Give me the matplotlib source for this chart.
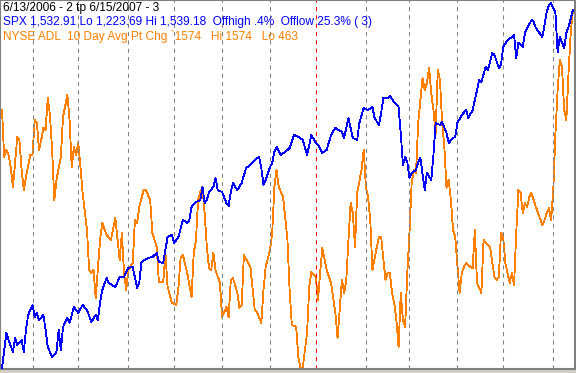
import numpy as np
import pandas as pd
import matplotlib.pyplot as plt

# trading-day index (business days since 6/13/2006) and SPX close
spx_day = [0, 2, 3, 5, 6, 7, 9, 10, 11, 12, 14, 15, 16, 17, 19, 20, 21, 23, 25, 26,
           27, 28, 30, 31, 33, 35, 37, 39, 41, 43, 44, 45, 46, 48, 49, 52, 54, 56, 58, 60,
           62, 63, 64, 67, 69, 71, 72, 74, 75, 76, 78, 79, 81, 83, 85, 86, 87, 89, 91, 92,
           93, 94, 95, 97, 98, 99, 101, 103, 104, 105, 106, 108, 110, 112, 114, 116, 118, 119, 120, 121,
           123, 124, 125, 126, 128, 131, 132, 134, 136, 138, 140, 142, 144, 145, 147, 149, 151, 153, 156, 157,
           159, 161, 163, 164, 166, 168, 170, 171, 173, 174, 175, 177, 178, 180, 182, 183, 184, 185, 186, 187,
           188, 190, 191, 192, 194, 195, 197, 198, 199, 201, 202, 204, 205, 207, 208, 209, 211, 213, 214, 216,
           218, 219, 220, 222, 223, 225, 226, 228, 229, 230, 232, 234, 235, 236, 237, 239, 240, 243, 244, 245,
           248, 249, 250, 251, 252, 254, 255, 256, 258, 259, 260, 262]
spx_close = [1223.7, 1254.0, 1247.9, 1237.6, 1249.7, 1243.6, 1247.9, 1237.6, 1256.6, 1269.5,
             1278.2, 1267.8, 1271.3, 1265.2, 1269.5, 1256.6, 1241.9, 1233.2, 1237.6, 1256.6,
             1239.3, 1259.2, 1266.9, 1262.6, 1276.5, 1271.3, 1278.2, 1273.9, 1263.5, 1269.5,
             1265.2, 1279.9, 1291.1, 1301.5, 1297.2, 1293.7, 1302.4, 1302.4, 1310.2, 1311.0,
             1292.9, 1297.2, 1315.3, 1318.8, 1319.6, 1323.1, 1315.3, 1314.5, 1325.7, 1337.0,
             1338.7, 1331.8, 1337.0, 1351.6, 1349.1, 1351.6, 1362.9, 1367.2, 1368.9, 1380.2,
             1366.3, 1368.9, 1375.8, 1380.2, 1387.9, 1377.6, 1375.8, 1366.3, 1363.7, 1375.8,
             1383.6, 1377.6, 1383.6, 1396.6, 1399.2, 1403.5, 1406.1, 1396.6, 1381.9, 1386.2,
             1397.5, 1400.9, 1410.4, 1414.7, 1407.8, 1412.1, 1413.9, 1425.1, 1423.4, 1420.8,
             1407.8, 1425.1, 1418.2, 1416.5, 1409.6, 1412.1, 1425.1, 1431.2, 1427.7, 1422.5,
             1439.8, 1422.5, 1420.8, 1435.5, 1448.4, 1446.7, 1449.3, 1439.8, 1433.8, 1444.1,
             1457.1, 1457.1, 1458.8, 1453.6, 1449.3, 1426.8, 1399.2, 1406.1, 1401.8, 1387.9,
             1392.3, 1394.9, 1401.8, 1405.2, 1377.6, 1392.3, 1386.2, 1407.8, 1435.5, 1433.8,
             1436.3, 1426.8, 1418.2, 1422.5, 1423.4, 1435.5, 1442.4, 1446.7, 1439.8, 1446.7,
             1464.0, 1472.6, 1470.9, 1483.9, 1481.3, 1496.0, 1494.3, 1483.0, 1485.6, 1501.2,
             1507.2, 1509.8, 1511.5, 1491.7, 1504.6, 1501.2, 1513.3, 1524.5, 1522.8, 1517.6,
             1509.8, 1520.2, 1531.4, 1537.5, 1539.18, 1530.5, 1496.8, 1509.8, 1500.3, 1513.3,
             1518.4, 1532.91]

# NYSE advance/decline line, 10 day avg point change
adl_day = [0, 1, 2, 3, 4, 5, 6, 7, 8, 9, 10, 11, 13, 14, 15, 16, 17, 18, 19, 20,
           21, 22, 23, 24, 25, 27, 28, 30, 31, 32, 33, 34, 35, 36, 37, 39, 40, 41, 42, 43,
           45, 46, 48, 50, 52, 54, 55, 56, 57, 58, 60, 61, 62, 63, 65, 66, 68, 69, 71, 72,
           74, 75, 76, 78, 80, 81, 82, 83, 85, 87, 88, 89, 90, 91, 92, 93, 94, 95, 96, 97,
           98, 100, 101, 103, 104, 105, 106, 108, 109, 110, 111, 113, 114, 116, 117, 119, 120, 121, 123, 124,
           125, 126, 127, 129, 131, 132, 133, 135, 136, 137, 138, 140, 141, 142, 144, 145, 146, 147, 149, 151,
           153, 154, 156, 157, 158, 159, 160, 161, 162, 163, 165, 166, 167, 168, 169, 170, 172, 173, 174, 176,
           177, 178, 179, 180, 181, 182, 183, 184, 185, 186, 187, 188, 189, 190, 191, 192, 193, 194, 195, 196,
           197, 198, 199, 200, 201, 202, 203, 204, 205, 206, 207, 208, 210, 211, 212, 213, 215, 216, 217, 218,
           220, 221, 222, 224, 226, 227, 228, 229, 230, 231, 233, 234, 235, 236, 237, 238, 239, 240, 241, 242,
           243, 245, 246, 248, 249, 250, 251, 252, 253, 254, 255, 256, 257, 258, 259, 260, 261, 262]
adl_chg = [1263.7, 1117.9, 1139.6, 1124.1, 1086.8, 1024.8, 1099.2, 1179.9, 1170.6, 1077.5,
           1015.5, 1055.8, 1124.1, 1124.1, 1232.7, 1223.4, 1139.6, 1170.6, 1207.8, 1201.6,
           1300.9, 1248.2, 1139.6, 984.4, 1046.5, 1117.9, 1242.0, 1310.2, 1232.7, 1086.8,
           1148.9, 1124.1, 1161.3, 1086.8, 1006.2, 891.3, 767.2, 757.9, 767.2, 680.3,
           860.3, 913.1, 875.8, 860.3, 928.6, 798.3, 882.0, 757.9, 705.2, 767.2,
           788.9, 922.4, 913.1, 962.7, 1015.5, 1015.5, 984.4, 882.0, 838.6, 730.0,
           730.0, 820.0, 714.5, 664.8, 658.6, 714.5, 807.6, 813.8, 757.9, 683.4,
           820.0, 860.3, 984.4, 1009.3, 1024.8, 944.1, 838.6, 773.4, 767.2, 820.0,
           767.2, 726.9, 621.4, 652.4, 621.4, 736.2, 742.4, 695.9, 649.3, 658.6,
           813.8, 788.9, 776.5, 643.1, 636.9, 602.8, 705.2, 776.5, 829.3, 882.0,
           1024.8, 1077.5, 1024.8, 993.8, 860.3, 705.2, 596.6, 590.4, 497.2, 463.0,
           463.0, 571.7, 714.5, 761.0, 745.5, 674.1, 757.9, 835.5, 767.2, 726.9,
           633.8, 556.2, 736.2, 695.9, 736.2, 860.3, 975.1, 944.1, 838.6, 1006.2,
           1077.5, 1139.6, 1024.8, 993.8, 922.4, 767.2, 838.6, 869.6, 869.6, 736.2,
           757.9, 757.9, 695.9, 664.8, 612.1, 528.3, 695.9, 612.1, 590.3, 757.9,
           882.0, 1037.2, 1077.5, 1068.2, 1223.4, 1294.7, 1363.0, 1325.8, 1347.5, 1394.0,
           1316.5, 1263.7, 1192.3, 1387.8, 1356.8, 1223.4, 1148.9, 1021.7, 1046.5, 984.4,
           891.3, 869.6, 695.9, 757.9, 776.5, 788.9, 776.5, 773.4, 891.3, 726.9,
           695.9, 860.3, 851.0, 838.6, 745.5, 736.2, 745.5, 882.0, 869.6, 788.9,
           726.9, 757.9, 720.7, 882.0, 1015.5, 1006.2, 944.1, 975.1, 962.7, 993.8,
           1006.2, 962.7, 944.1, 906.9, 922.4, 944.1, 959.6, 922.4, 1015.5, 1192.3,
           1325.8, 1418.8, 1397.1, 1263.7, 1232.7, 1378.5, 1502.6, 1574.0]

title_lines = [
    ("6/13/2006 - 2 tp 6/15/2007 - 3", "black"),
    ("SPX 1,532.91 Lo 1,223.69 Hi 1,539.18  Offhigh .4%  Offlow 25.3% ( 3)", "#0000ff"),
    ("NYSE ADL  10 Day Avg Pt Chg `1574   Hi 1574   Lo 463", "#ff8000"),
]

days = pd.bdate_range("2006-06-13", "2007-06-15")

W, H = 576, 373
fig = plt.figure(figsize=(W / 100, H / 100), dpi=100, facecolor="#d4d0c8")
ax = fig.add_axes([0, 4 / H, 575 / W, 369 / H])
for s in ax.spines.values():
    s.set_color("#808080")
    s.set_linewidth(1.5)
ax.set_xticks([])
ax.set_yticks([])
ax.set_xlim(-0.92, 262.97)

# month separators, red one at the start of the year
for i in range(1, len(days)):
    if days[i].month != days[i - 1].month:
        col = "#ff0000" if days[i].year != days[i - 1].year else "#808080"
        ax.axvline(i, color=col, lw=0.75, ls=(0, (4, 4)), zorder=1)

ax2 = ax.twinx()
ax2.set_axis_off()
ax.set_ylim(1222.83, 1541.77)
ax2.set_ylim(459.9, 1605.0)

ax2.plot(adl_day, adl_chg, color="#ff8000", lw=0.6, antialiased=False, zorder=2)
ax.plot(spx_day, spx_close, color="#0000ff", lw=0.6, antialiased=False, zorder=3)
ax.set_zorder(ax2.get_zorder() + 1)
ax.patch.set_visible(False)
fig.patches.append(plt.Rectangle((0, 4 / H), 575 / W, 369 / H, transform=fig.transFigure,
                                 facecolor="white", edgecolor="none", zorder=-5))

for k, (txt, col) in enumerate(title_lines):
    fig.text(3 / W, 1 - (11 + 14.5 * k) / H, txt, color=col, fontsize=8.6,
             family="Liberation Sans", va="baseline", ha="left")

fig.savefig("out.png", dpi=100, facecolor=fig.get_facecolor())
